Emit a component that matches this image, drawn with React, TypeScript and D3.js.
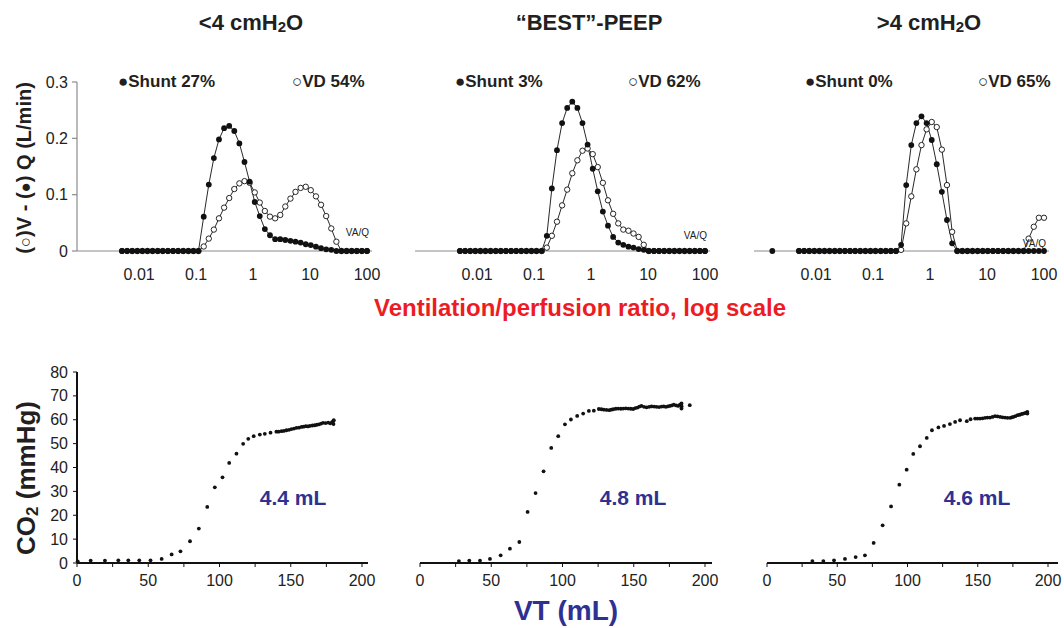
import React from 'react';
import * as d3 from 'd3';

const W = 1064;
const H = 628;
const FONT = '"Liberation Sans", Arial, Helvetica, sans-serif';
const BLUE = '#2e3192';
const RED = '#ed1c24';
const INK = '#231f20';

// MIGET compartments, VA/Q from 0.005 to 100 (log spaced)
const vaq = [
  0.005, 0.00615, 0.00756, 0.00929, 0.0114, 0.014, 0.0172, 0.0212, 0.026, 0.032,
  0.0394, 0.0484, 0.0595, 0.0731, 0.0898, 0.11, 0.136, 0.167, 0.205, 0.252,
  0.31, 0.381, 0.468, 0.575, 0.707, 0.869, 1.07, 1.31, 1.61, 1.98,
  2.44, 3.0, 3.68, 4.53, 5.56, 6.84, 8.41, 10.3, 12.7, 15.6,
  19.2, 23.6, 29.0, 35.6, 43.8, 53.8, 66.2, 81.3, 100,
];

// perfusion (filled) and ventilation (open), L/min
const perfusionLow = [
  0, 0, 0, 0, 0, 0, 0, 0, 0, 0, 0, 0, 0, 0, 0, 0,
  0.061, 0.118, 0.165, 0.198, 0.218, 0.222, 0.213, 0.191, 0.158, 0.123, 0.087, 0.062, 0.039,
  0.028, 0.021, 0.021, 0.0195, 0.018, 0.0165, 0.015, 0.012, 0.0106, 0.0077, 0.005, 0.003, 0.002,
  0, 0, 0, 0, 0, 0, 0,
];
const ventilationLow = [
  0, 0, 0, 0, 0, 0, 0, 0, 0, 0, 0, 0, 0, 0, 0, 0,
  0.008, 0.022, 0.038, 0.058, 0.077, 0.094, 0.11, 0.12, 0.124, 0.121, 0.104, 0.086, 0.071,
  0.061, 0.058, 0.064, 0.079, 0.093, 0.105, 0.112, 0.114, 0.108, 0.097, 0.082, 0.062, 0.04,
  0.0165, 0, 0, 0, 0, 0, 0,
];
const perfusionBest = [
  0, 0, 0, 0, 0, 0, 0, 0, 0, 0, 0, 0, 0, 0, 0, 0, 0,
  0.027, 0.111, 0.179, 0.227, 0.254, 0.265, 0.254, 0.227, 0.189, 0.146, 0.106, 0.07,
  0.045, 0.025, 0.015, 0.011, 0.0077, 0.006, 0.0035, 0.002,
  0, 0, 0, 0, 0, 0, 0, 0, 0, 0, 0, 0,
];
const ventilationBest = [
  0, 0, 0, 0, 0, 0, 0, 0, 0, 0, 0, 0, 0, 0, 0, 0, 0,
  0.006, 0.027, 0.052, 0.081, 0.109, 0.138, 0.161, 0.178, 0.182, 0.172, 0.149, 0.121,
  0.09, 0.066, 0.049, 0.038, 0.036, 0.031, 0.025, 0.011,
  0, 0, 0, 0, 0, 0, 0, 0, 0, 0, 0, 0,
];
const perfusionHigh = [
  0, 0, 0, 0, 0, 0, 0, 0, 0, 0, 0, 0, 0, 0, 0, 0, 0, 0, 0, 0,
  0.011, 0.117, 0.188, 0.227, 0.239, 0.227, 0.197, 0.154, 0.105, 0.055, 0.0136,
  0, 0, 0, 0, 0, 0, 0, 0, 0, 0, 0, 0, 0, 0, 0, 0, 0, 0,
];
const ventilationHigh = [
  0, 0, 0, 0, 0, 0, 0, 0, 0, 0, 0, 0, 0, 0, 0, 0, 0, 0, 0, 0,
  0.002, 0.049, 0.097, 0.145, 0.188, 0.216, 0.229, 0.22, 0.18, 0.117, 0.034,
  0, 0, 0, 0, 0, 0, 0, 0, 0, 0, 0, 0, 0, 0,
  0.022, 0.043, 0.059, 0.059,
];
// lone shunt point plotted left of the compartments in the third panel
const shuntHigh = { vaq: 0.0017, value: 0 };

// volumetric capnography: expired volume (mL) and CO2 (mmHg)
const volumeLow = [
  0.5, 9.6, 19.6, 29.0, 36.0, 43.7, 51.6, 59.4, 66.4, 72.6, 79.3, 85.5, 91.4, 96.7,
  102.1, 106.8, 111.9, 116.6, 120.2, 124.0, 128.3, 131.8, 135.8, 139.9,
  141.5, 143.5, 145.2, 147.0, 148.8, 150.5, 152.3, 154.0, 155.8, 157.6, 159.1, 160.6,
  162.0, 163.4, 165.2, 166.9, 168.4, 169.9, 171.3, 172.7, 174.5, 176.3, 177.8, 179.0,
  179.8, 180.0, 180.2,
];
const co2Low = [
  0.7, 1.0, 1.0, 1.1, 1.1, 1.1, 1.1, 1.7, 3.6, 4.9, 9.1, 14.4, 23.5, 31.7,
  35.9, 41.9, 45.8, 49.9, 52.0, 53.1, 53.8, 54.1, 54.6, 55.0,
  55.0, 55.2, 55.3, 55.6, 55.8, 56.1, 56.3, 56.6, 56.7, 57.0, 57.1, 57.3,
  57.2, 57.4, 57.6, 57.7, 57.9, 58.1, 58.4, 58.7, 58.6, 58.8, 58.5, 59.0,
  59.4, 58.2, 59.8,
];
const volumeBest = [
  27.3, 34.6, 42.1, 49.1, 56.6, 63.1, 69.7, 75.5, 81.1, 86.7, 92.1, 97.0, 101.7,
  105.9, 110.3, 114.5, 118.5, 122.0, 125.5, 127.3, 129.0, 130.9, 132.8, 134.2, 135.6,
  137.4, 139.1, 140.9, 142.6, 144.4, 146.1, 147.9, 149.6, 151.1, 152.6, 154.0, 155.4,
  157.2, 159.0, 160.8, 162.5, 164.3, 166.0, 167.8, 169.5, 171.0, 172.5, 173.9, 175.3,
  176.7, 178.1, 179.7, 181.2, 182.4, 183.5, 183.5, 183.6, 189.3,
];
const co2Best = [
  0.8, 1.0, 1.0, 1.7, 3.2, 6.0, 8.8, 21.4, 29.3, 38.4, 48.2, 53.1, 58.1,
  60.1, 61.6, 62.6, 63.7, 63.8, 64.5, 64.4, 64.2, 64.1, 64.0, 64.2, 64.4,
  64.6, 64.7, 64.6, 64.7, 64.8, 64.7, 64.6, 64.5, 64.9, 65.1, 65.5, 65.8,
  65.4, 65.2, 65.4, 65.6, 65.5, 65.4, 65.3, 65.5, 65.6, 65.4, 65.6, 65.8,
  66.0, 66.3, 66.0, 65.8, 66.3, 66.8, 64.7, 65.6, 66.1,
];
const volumeHigh = [
  32.3, 40.1, 47.7, 55.5, 63.1, 69.7, 75.9, 82.3, 88.3, 94.2, 99.4, 104.1, 108.9,
  113.7, 117.4, 122.0, 126.0, 130.2, 133.9, 137.4, 142.2, 144.9, 148.1, 149.8, 151.6,
  153.4, 155.2, 156.9, 158.7, 160.5, 162.3, 164.1, 166.0, 167.7, 169.4, 171.2, 173.1,
  174.2, 175.3, 176.8, 178.4, 179.9, 181.3, 182.4, 183.6, 184.5, 185.3, 185.3,
];
const co2High = [
  0.8, 0.8, 1.1, 1.7, 2.5, 3.2, 8.4, 15.8, 23.7, 32.8, 39.1, 45.7, 48.9,
  52.4, 55.6, 56.8, 57.4, 58.2, 59.1, 59.8, 59.4, 60.2, 60.5, 60.5, 60.5,
  60.6, 60.8, 60.9, 60.9, 61.2, 61.5, 61.4, 61.2, 61.0, 60.9, 60.8, 60.8,
  61.0, 61.2, 61.5, 61.9, 62.1, 62.4, 62.6, 62.8, 63.0, 63.3, 62.6,
];

const titles = [
  ['<4 cmH', '2', 'O'],
  ['\u201cBEST\u201d-PEEP', '', ''],
  ['>4 cmH', '2', 'O'],
];
const shuntLabels = ['Shunt 27%', 'Shunt 3%', 'Shunt 0%'];
const deadSpaceLabels = ['VD 54%', 'VD 62%', 'VD 65%'];
const airwayDeadSpace = ['4.4 mL', '4.8 mL', '4.6 mL'];
const vqTicks = [0.01, 0.1, 1, 10, 100];
const vqTickLabels = ['0.01', '0.1', '1', '10', '100'];
const flowTicks = [0, 0.1, 0.2, 0.3];
const co2Ticks = [0, 10, 20, 30, 40, 50, 60, 70, 80];
const volumeLabelTicks = [0, 50, 100, 150, 200];
const volumeMinorTicks = [0, 25, 50, 75, 100, 125, 150, 175, 200];

const perfusion = [perfusionLow, perfusionBest, perfusionHigh];
const ventilation = [ventilationLow, ventilationBest, ventilationHigh];
const volumes = [volumeLow, volumeBest, volumeHigh];
const co2s = [co2Low, co2Best, co2High];

// layout
const topStart = [122, 460, 799];
const topSpan = 245;
const titleX = [251, 589, 929];
const shuntX = [118, 455, 805];
const vdX = [292, 628, 978];
const botStart = [77, 420, 767];
const bot200 = [362, 705, 1048];
const botEnd = [368, 712, 1058];
const mlX = [293, 633, 977];

export default function App() {
  const yTop = d3.scaleLinear().domain([0, 0.3]).range([251, 82]);
  const yBot = d3.scaleLinear().domain([0, 80]).range([563, 372]);

  const topPanels = [0, 1, 2].map((p) => {
    const x = d3.scaleLog().domain([0.005, 100]).range([topStart[p], topStart[p] + topSpan]);
    const line = d3
      .line<number>()
      .x((_, i) => x(vaq[i]))
      .y((d) => yTop(d));
    return (
      <g key={'top' + p}>
        <text x={titleX[p]} y={30} textAnchor="middle" fontSize={22} fontWeight="bold" fill={INK}>
          {titles[p][0]}
          {titles[p][1] && (
            <tspan fontSize={15} dy={2}>
              {titles[p][1]}
            </tspan>
          )}
          {titles[p][2] && <tspan dy={-2}>{titles[p][2]}</tspan>}
        </text>
        <line x1={topStart[p] - 45} x2={topStart[p] + topSpan + 5} y1={yTop(0)} y2={yTop(0)} stroke="#8c8c8c" strokeWidth={1.2} />
        {vqTicks.map((t, i) => (
          <text key={t} x={x(t)} y={280} textAnchor="middle" fontSize={16} fill="#222">
            {vqTickLabels[i]}
          </text>
        ))}
        <text x={shuntX[p]} y={87} fontSize={17} fontWeight="bold" fill={INK}>
          {'\u25cf' + shuntLabels[p]}
        </text>
        <text x={vdX[p]} y={87} fontSize={17} fontWeight="bold" fill={INK}>
          {'\u25cb' + deadSpaceLabels[p]}
        </text>
        <path d={line(ventilation[p]) || ''} fill="none" stroke="#111" strokeWidth={0.9} />
        <path d={line(perfusion[p]) || ''} fill="none" stroke="#111" strokeWidth={0.9} />
        {ventilation[p].map((d, i) => (
          <circle key={'v' + i} cx={x(vaq[i])} cy={yTop(d)} r={2.7} fill="#fff" stroke="#111" strokeWidth={0.9} />
        ))}
        {perfusion[p].map((d, i) => (
          <circle key={'q' + i} cx={x(vaq[i])} cy={yTop(d)} r={2.9} fill="#111" />
        ))}
        {p === 2 && <circle cx={x(shuntHigh.vaq)} cy={yTop(shuntHigh.value)} r={2.9} fill="#111" />}
        <text x={topStart[p] + topSpan + 2} y={[236, 239, 247][p]} textAnchor="end" fontSize={10} fill="#222">
          VA/Q
        </text>
      </g>
    );
  });

  const botPanels = [0, 1, 2].map((p) => {
    const x = d3.scaleLinear().domain([0, 200]).range([botStart[p], bot200[p]]);
    return (
      <g key={'bot' + p}>
        {volumeMinorTicks.map((t) => (
          <line key={t} x1={x(t)} x2={x(t)} y1={yBot(0)} y2={yBot(0) + 4} stroke="#111" strokeWidth={1} />
        ))}
        <line x1={botStart[p]} x2={botEnd[p]} y1={yBot(0)} y2={yBot(0)} stroke="#111" strokeWidth={2} />
        {volumeLabelTicks.map((t) => (
          <text key={t} x={x(t)} y={586} textAnchor="middle" fontSize={16} fill="#222">
            {t}
          </text>
        ))}
        {volumes[p].map((v, i) => (
          <circle key={i} cx={x(v)} cy={yBot(co2s[p][i])} r={1.9} fill="#111" />
        ))}
        <text x={mlX[p]} y={505} textAnchor="middle" fontSize={21} fontWeight="bold" fill={BLUE}>
          {airwayDeadSpace[p]}
        </text>
      </g>
    );
  });

  return (
    <svg
      width={W}
      height={H}
      style={{ position: 'absolute', left: 0, top: 0, background: '#fff' }}
      fontFamily={FONT}
    >
      <rect width={W} height={H} fill="#fff" />
      {/* top y axis */}
      <line x1={77} x2={77} y1={yTop(0.3)} y2={yTop(0)} stroke="#8c8c8c" strokeWidth={1.2} />
      {flowTicks.map((t) => (
        <g key={t}>
          <line x1={72} x2={77} y1={yTop(t)} y2={yTop(t)} stroke="#8c8c8c" strokeWidth={1.2} />
          <text x={68} y={yTop(t)} dy="0.35em" textAnchor="end" fontSize={16} fill="#222">
            {t === 0 ? '0' : String(t)}
          </text>
        </g>
      ))}
      <text transform="translate(31,168) rotate(-90)" textAnchor="middle" fontSize={20} fontWeight="bold" fill={INK}>
        (<tspan fontSize={17}>{'\u25cb'}</tspan>)V - (<tspan fontSize={17}>{'\u25cf'}</tspan>) Q (L/min)
      </text>
      {topPanels}
      <text x={580} y={316} textAnchor="middle" fontSize={24} fontWeight="bold" fill={RED}>
        Ventilation/perfusion ratio, log scale
      </text>

      {/* bottom y axis */}
      <line x1={77} x2={77} y1={yBot(80)} y2={yBot(0)} stroke="#111" strokeWidth={2} />
      {co2Ticks.map((t) => (
        <g key={t}>
          <line x1={73} x2={77} y1={yBot(t)} y2={yBot(t)} stroke="#111" strokeWidth={1} />
          <text x={68} y={yBot(t)} dy="0.35em" textAnchor="end" fontSize={16} fill="#222">
            {t}
          </text>
        </g>
      ))}
      <text transform="translate(35,478) rotate(-90)" textAnchor="middle" fontSize={26} fontWeight="bold" fill={INK}>
        CO<tspan fontSize={17} dy={3}>2</tspan>
        <tspan dy={-3}> (mmHg)</tspan>
      </text>
      {botPanels}
      <text x={566} y={620} textAnchor="middle" fontSize={28} fontWeight="bold" fill={BLUE}>
        VT (mL)
      </text>
    </svg>
  );
}
